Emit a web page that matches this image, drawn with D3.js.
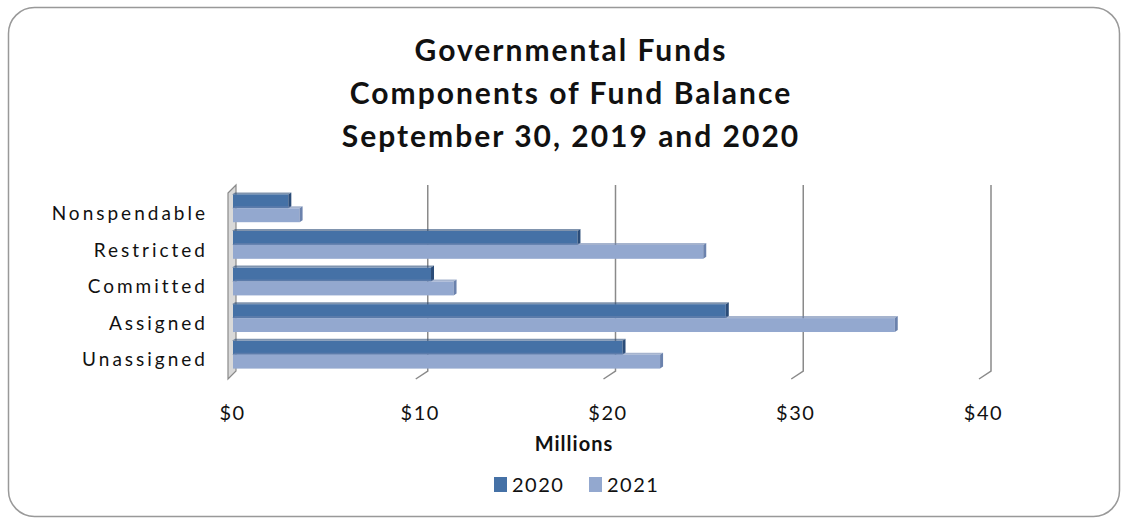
<!DOCTYPE html>
<html>
<head>
<meta charset="utf-8">
<script src="https://cdn.jsdelivr.net/npm/d3@7"></script>
<style>
  body { margin: 0; background: #fff; }
  text { font-family: Lato, 'Open Sans', sans-serif; fill: #111; }
</style>
</head>
<body>
<svg id="chart" width="1127" height="521"></svg>
<script>
// data
let categories = ['Nonspendable', 'Restricted', 'Committed', 'Assigned', 'Unassigned']
let seriesNames = ['2020', '2021']
let values2020 = [3.0, 18.4, 10.6, 26.3, 20.8]
let values2021 = [3.6, 25.1, 11.8, 35.3, 22.8]
let tickValues = [0, 10, 20, 30, 40]
let titleLines = ['Governmental Funds', 'Components of Fund Balance', 'September 30, 2019 and 2020']

let colors = { '2020': '#4571a6', '2021': '#93a8cf' }
let capColors = { '2020': '#2b4c78', '2021': '#6b82ad' }
let depth = 8

let svg = d3.select('#chart')

// outer frame
svg.append('rect')
  .attr('x', 8.5).attr('y', 7.5)
  .attr('width', 1111).attr('height', 509)
  .attr('rx', 26).attr('ry', 26)
  .attr('fill', '#fff')
  .attr('stroke', '#999')
  .attr('stroke-width', 1.5)

// title
svg.append('g').selectAll('text')
  .data(titleLines)
  .enter().append('text')
  .attr('x', 571)
  .attr('y', (d, i) => 61 + i * 43)
  .attr('text-anchor', 'middle')
  .attr('font-size', '30px')
  .attr('font-weight', 'bold')
  .attr('letter-spacing', '2px')
  .text(d => d)

let x = d3.scaleLinear().domain([0, 40]).range([232, 983])
let y = d3.scaleBand().domain(categories).range([190, 373]).paddingInner(0.24).paddingOuter(0.12)
let ySub = d3.scaleBand().domain(seriesNames).range([0, y.bandwidth()])

let plotTop = 185, plotBottom = 371

// gridlines (back wall), with floor diagonal
let grid = svg.append('g')
grid.selectAll('path.grid')
  .data(tickValues.slice(1))
  .enter().append('path')
  .attr('class', 'grid')
  .attr('d', d => 'M' + (x(d) + depth) + ',' + plotTop + 'V' + plotBottom + 'L' + (x(d) - 4) + ',' + (plotBottom + 8))
  .attr('fill', 'none')
  .attr('stroke', '#8a8a8a')
  .attr('stroke-width', 1.5)

// left wall
svg.append('path')
  .attr('d', 'M' + (x(0) - 4) + ',' + (plotTop + 8) + 'L' + (x(0) + 4) + ',' + plotTop +
    'V' + plotBottom + 'L' + (x(0) - 4) + ',' + (plotBottom + 8) + 'Z')
  .attr('fill', '#d9d9d9')
  .attr('stroke', '#8a8a8a')
  .attr('stroke-width', 1.2)

// bars
let rows = categories.map((c, i) => ({ cat: c, vals: [values2020[i], values2021[i]] }))
let bars = svg.append('g')
rows.forEach(r => {
  seriesNames.forEach((s, j) => {
    let y0 = y(r.cat) + ySub(s)
    let h = ySub.bandwidth()
    let x1 = x(r.vals[j])
    // top shade
    bars.append('path')
      .attr('d', 'M' + x(0) + ',' + y0 + 'L' + (x(0) + 3) + ',' + (y0 - 2) + 'H' + (x1 + 3) + 'L' + x1 + ',' + y0 + 'Z')
      .attr('fill', capColors[s]).attr('opacity', 0.6)
    bars.append('rect')
      .attr('x', x(0) + 1).attr('y', y0)
      .attr('width', x1 - x(0) - 1).attr('height', h)
      .attr('fill', colors[s])
    // right end cap
    bars.append('path')
      .attr('d', 'M' + x1 + ',' + y0 + 'L' + (x1 + 3) + ',' + (y0 - 2) + 'V' + (y0 + h - 2) + 'L' + x1 + ',' + (y0 + h) + 'Z')
      .attr('fill', capColors[s])
  })
})

// category labels
svg.append('g').selectAll('text')
  .data(categories)
  .enter().append('text')
  .attr('x', 208)
  .attr('y', d => y(d) + y.bandwidth() / 2 + 5)
  .attr('dy', '0.35em')
  .attr('text-anchor', 'end')
  .attr('font-size', '19px')
  .attr('letter-spacing', '3px')
  .text(d => d)

// x axis
let xAxis = d3.axisBottom(x).tickValues(tickValues).tickSize(0).tickFormat(d => '$' + d)
let axisG = svg.append('g').attr('transform', 'translate(0,403)').call(xAxis)
axisG.select('.domain').remove()
axisG.selectAll('text')
  .attr('font-size', '20px')
  .attr('font-family', 'Lato, sans-serif')
  .attr('letter-spacing', '1.5px')
  .attr('fill', '#111')

svg.append('text')
  .attr('x', 574).attr('y', 451)
  .attr('text-anchor', 'middle')
  .attr('font-size', '20px')
  .attr('font-weight', 'bold')
  .attr('letter-spacing', '1px')
  .text('Millions')

// legend
let legend = svg.append('g').attr('transform', 'translate(494,484)')
let legendItems = legend.selectAll('g')
  .data(seriesNames)
  .enter().append('g')
  .attr('transform', (d, i) => 'translate(' + (i * 95) + ',0)')
legendItems.append('rect')
  .attr('x', 0).attr('y', -7).attr('width', 13).attr('height', 15)
  .attr('fill', d => colors[d])
legendItems.append('text')
  .attr('x', 18).attr('y', 1).attr('dy', '0.35em')
  .attr('font-size', '20px')
  .attr('letter-spacing', '1.5px')
  .text(d => d)
</script>
</body>
</html>
